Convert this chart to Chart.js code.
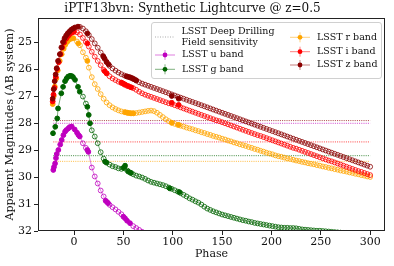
<!DOCTYPE html>
<html>
<head>
<meta charset="utf-8">
<script src="https://cdn.jsdelivr.net/npm/chart.js@4.4.0/dist/chart.umd.min.js"></script>
<style>
    html, body { margin: 0; padding: 0; background: #fff; }
</style>
</head>
<body>
<canvas id="myChart" width="394" height="266"></canvas>
<script>
// model grid (open circles), phase in days
var modelPhase = [3, 6, 9, 12, 15, 18, 21, 24, 27, 30,
    33, 36, 39, 42, 45, 48, 51, 54, 57, 60,
    63, 66, 69, 72, 75, 78, 81, 84, 87, 90,
    93, 96, 99, 102, 105, 108, 111, 114, 117, 120,
    123, 126, 129, 132, 135, 138, 141, 144, 147, 150,
    153, 156, 159, 162, 165, 168, 171, 174, 177, 180,
    183, 186, 189, 192, 195, 198, 201, 204, 207, 210,
    213, 216, 219, 222, 225, 228, 231, 234, 237, 240,
    243, 246, 249, 252, 255, 258, 261, 264, 267, 270,
    273, 276, 279, 282, 285, 288, 291, 294, 297, 300];

var zModel = [null, 24.44, 24.50, 24.60, 24.74, 24.89, 25.05, 25.21, 25.39, 25.56,
    25.74, 25.88, 25.98, 26.06, 26.13, 26.19, 26.24, 26.28, 26.32, 26.37,
    26.43, 26.49, 26.54, 26.58, 26.62, 26.66, 26.70, 26.74, 26.78, 26.82,
    26.86, 26.90, 26.94, 26.98, 27.02, 27.06, 27.10, 27.14, 27.18, 27.22,
    27.26, 27.30, 27.34, 27.38, 27.42, 27.46, 27.50, 27.54, 27.58, 27.62,
    27.66, 27.70, 27.74, 27.78, 27.82, 27.86, 27.90, 27.94, 27.98, 28.02,
    28.06, 28.10, 28.14, 28.18, 28.22, 28.26, 28.30, 28.34, 28.38, 28.42,
    28.46, 28.50, 28.54, 28.58, 28.62, 28.66, 28.70, 28.74, 28.78, 28.82,
    28.86, 28.90, 28.94, 28.98, 29.02, 29.06, 29.10, 29.14, 29.18, 29.22,
    29.26, 29.30, 29.34, 29.38, 29.42, 29.46, 29.50, 29.54, 29.58, 29.62];
var zObsPhase = [-21.6, -20.6, -19.6, -18.6, -17.6, -16.2, -14.4, -12.8, -11.2, -9.6, -8, -6.4, -4.8, -3, -1, 1, 4, 13.5,
    29.5, 31, 33, 35, 53, 55, 57, 59, 61, 63, 99, 106];
var zObsMag = [27.1, 26.75, 26.45, 26.2, 25.97, 25.7, 25.45, 25.2, 25.0, 24.86, 24.76, 24.68, 24.62, 24.55, 24.5, 24.46, 24.43, 24.68,
    25.52, 25.62, 25.74, 25.83, 26.27, 26.29, 26.31, 26.34, 26.38, 26.42, 27.0, 27.1];

var iModel = [24.64, 24.72, 24.85, 25.00, 25.17, 25.36, 25.54, 25.70, 25.86, 26.03,
    26.16, 26.27, 26.35, 26.41, 26.47, 26.52, 26.58, 26.63, 26.67, 26.71,
    26.77, 26.84, 26.90, 26.95, 26.99, 27.03, 27.07, 27.11, 27.15, 27.19,
    27.23, 27.27, 27.30, 27.34, 27.38, 27.42, 27.46, 27.50, 27.54, 27.58,
    27.62, 27.66, 27.70, 27.74, 27.78, 27.82, 27.86, 27.90, 27.93, 27.97,
    28.01, 28.05, 28.09, 28.13, 28.17, 28.21, 28.25, 28.29, 28.33, 28.37,
    28.41, 28.45, 28.48, 28.52, 28.56, 28.60, 28.64, 28.68, 28.72, 28.76,
    28.80, 28.84, 28.88, 28.92, 28.95, 28.99, 29.03, 29.07, 29.11, 29.15,
    29.19, 29.23, 29.27, 29.31, 29.35, 29.39, 29.42, 29.46, 29.50, 29.54,
    29.58, 29.62, 29.66, 29.70, 29.74, 29.78, 29.81, 29.85, 29.89, 29.93];
var iObsPhase = [-21.6, -20.8, -19.8, -18.5, -17.2, -15.5, -13.8, -12, -10, -8, -6, -4, -2, 0, 13.5,
    31, 33, 48, 50, 52, 55, 58, 99, 106];
var iObsMag = [27.2, 26.95, 26.7, 26.3, 26.0, 25.75, 25.45, 25.2, 25.02, 24.88, 24.78, 24.7, 24.65, 24.62, 25.05,
    26.08, 26.16, 26.5, 26.54, 26.58, 26.63, 26.68, 27.25, 27.33];

var rModel = [24.98, 25.12, 25.38, 25.58, 25.95, 26.30, 26.56, 26.74, 26.93, 27.10,
    27.24, 27.34, 27.42, 27.48, 27.53, 27.57, 27.60, 27.62, 27.64, 27.64,
    27.63, 27.61, 27.59, 27.57, 27.55, 27.54, 27.56, 27.62, 27.70, 27.78,
    27.86, 27.93, 27.99, 28.03, 28.07, 28.10, 28.13, 28.17, 28.20, 28.23,
    28.27, 28.30, 28.34, 28.37, 28.41, 28.44, 28.48, 28.51, 28.54, 28.58,
    28.61, 28.65, 28.68, 28.72, 28.75, 28.79, 28.82, 28.85, 28.89, 28.92,
    28.96, 28.99, 29.03, 29.06, 29.10, 29.13, 29.16, 29.20, 29.23, 29.25,
    29.28, 29.31, 29.33, 29.36, 29.39, 29.41, 29.44, 29.46, 29.49, 29.51,
    29.53, 29.56, 29.58, 29.61, 29.63, 29.66, 29.68, 29.71, 29.73, 29.76,
    29.78, 29.80, 29.83, 29.85, 29.88, 29.90, 29.93, 29.95, 29.98, 30.00];
var rObsPhase = [-21.6, -20.5, -19.5, -18, -16.5, -14.5, -12.5, -10.5, -9, -7, -5.5, -3, -0.7, 4.3, 13.5,
    52, 54, 56, 58, 60, 99, 106];
var rObsMag = [27.3, 27.0, 26.65, 26.35, 26.05, 25.7, 25.45, 25.25, 25.11, 25.0, 24.93, 24.88, 24.86, 25.05, 25.7,
    27.6, 27.62, 27.63, 27.64, 27.64, 27.99, 28.07];

var gModel = [null, null, 27.02, 27.28, null, 28.27, 28.50, 28.75, 29.08, 29.32,
    null, 29.54, 29.60, 29.63, 29.68, 29.70, 29.68, 29.76, 29.84, 29.90,
    29.95, 29.98, 30.02, 30.07, 30.13, 30.18, 30.21, 30.24, 30.27, 30.30,
    30.34, 30.39, 30.44, 30.49, 30.54, 30.60, 30.66, 30.72, 30.79, 30.84,
    30.90, 30.95, 31.02, 31.10, 31.17, 31.22, 31.27, 31.31, 31.35, 31.39,
    31.42, 31.45, 31.48, 31.51, 31.54, 31.57, 31.60, 31.62, 31.65, 31.67,
    31.70, 31.72, 31.74, 31.76, 31.78, 31.80, 31.82, 31.84, 31.86, 31.87,
    31.88, 31.88, 31.89, 31.89, 31.90, 31.92, 31.94, 31.95, 31.96, 31.97,
    31.98, 31.99, 31.99, 32.00, 32.01, 32.02, 32.03, 32.04, 32.05, 32.06,
    32.07, 32.07, 32.08, 32.08, 32.09, 32.09, 32.10, 32.10, 32.11, 32.11];
var gObsPhase = [-21.3, -19, -17, -16.2, -12.9, -11.1, -9.1, -7.5, -6, -4, -2.3, -1, 1, 4, 5.8, 13.5, 14.9, 16.2,
    31.4, 33, 50, 51.7, 55, 57.7, 97, 106.7];
var gObsMag = [28.38, 28.14, 27.83, 27.46, 26.9, 26.66, 26.45, 26.35, 26.28, 26.25, 26.26, 26.3, 26.4, 26.66, 26.84, 27.4, 27.7, 28.01,
    29.43, 29.47, 29.66, 29.58, 29.8, 29.85, 30.42, 30.56];

var uModel = [null, null, 28.75, 28.92, null, 29.65, 29.98, 30.24, 30.50, 30.72,
    null, 31.03, 31.12, 31.20, 31.29, 31.38, null, null, null, 31.82,
    31.89, 31.96, 32.03, 32.10, 32.17];
var uObsPhase = [-21, -20.3, -19.2, -18.3, -17.5, -15.9, -14, -12.5, -10.8, -9.1, -7.8, -5.8, -4.4, -2.3, 0.7, 3, 4.4, 5.8, 13.5, 14.5,
    32, 33.5, 34.5, 50, 51.7, 53.7, 56.7];
var uObsMag = [29.74, 29.63, 29.5, 29.3, 29.15, 29.0, 28.8, 28.63, 28.45, 28.32, 28.26, 28.2, 28.15, 28.13, 28.24, 28.36, 28.44, 28.5, 29.0, 29.07,
    30.88, 30.93, 30.97, 31.47, 31.53, 31.62, 31.71];

// LSST deep drilling field 5-sigma depth
var depthBands = ['z', 'u', 'i', 'g', 'r'];
var depthMag = [27.91, 28.01, 28.70, 29.21, 29.42];
var depthPhase = [-21, 300];

var xTicks = [0, 50, 100, 150, 200, 250, 300];
var yTicks = [25, 26, 27, 28, 29, 30, 31, 32];

var colors = { u: '#BF00BF', g: '#006400', r: '#FFA500', i: '#FF0000', z: '#8B0000' };

function alpha(hex, a) {
    var n = parseInt(hex.slice(1), 16);
    return 'rgba(' + (n >> 16) + ',' + ((n >> 8) & 255) + ',' + (n & 255) + ',' + a + ')';
}

function merge(model, obsPhase, obsMag) {
    var pts = [];
    for (var i = 0; i < model.length; i++) {
        if (model[i] !== null) pts.push({ x: modelPhase[i], y: model[i], f: false });
    }
    for (var j = 0; j < obsPhase.length; j++) pts.push({ x: obsPhase[j], y: obsMag[j], f: true });
    pts.sort(function (a, b) { return a.x - b.x; });
    return pts;
}

function bandSet(band, pts) {
    var c = colors[band];
    return {
        label: 'LSST ' + band + ' band',
        data: pts,
        showLine: true,
        borderColor: alpha(c, 0.5),
        borderWidth: 1,
        pointRadius: 2.4,
        pointBorderWidth: 1,
        pointBorderColor: function (ctx) { return ctx.raw && ctx.raw.f ? c : alpha(c, 0.8); },
        pointBackgroundColor: function (ctx) { return ctx.raw && ctx.raw.f ? c : 'rgba(255,255,255,0)'; }
    };
}

var datasets = [
    bandSet('z', merge(zModel, zObsPhase, zObsMag)),
    bandSet('i', merge(iModel, iObsPhase, iObsMag)),
    bandSet('r', merge(rModel, rObsPhase, rObsMag)),
    bandSet('g', merge(gModel, gObsPhase, gObsMag)),
    bandSet('u', merge(uModel, uObsPhase, uObsMag))
];
depthBands.forEach(function (b, k) {
    datasets.push({
        label: 'depth ' + b,
        data: depthPhase.map(function (p) { return { x: p, y: depthMag[k] }; }),
        showLine: true,
        borderColor: alpha(colors[b], 0.75),
        borderWidth: 1,
        borderDash: [1, 1.2],
        pointRadius: 0
    });
});

var serif = "'DejaVu Serif', serif";

// box around the plot + legend like matplotlib
var framePlugin = {
    id: 'frame',
    afterDraw: function (chart) {
        var ctx = chart.ctx, a = chart.chartArea;
        ctx.save();
        ctx.strokeStyle = '#222';
        ctx.lineWidth = 1;
        ctx.strokeRect(Math.round(a.left) + 0.5, Math.round(a.top) + 0.5,
            Math.round(a.right - a.left) - 1, Math.round(a.bottom - a.top) - 1);

        // legend
        var bx = 151.5, by = 22.5, bw = 230, bh = 56;
        ctx.fillStyle = 'rgba(255,255,255,0.85)';
        ctx.strokeStyle = '#d0d0d0';
        ctx.beginPath();
        ctx.roundRect(bx, by, bw, bh, 2.5);
        ctx.fill();
        ctx.stroke();

        ctx.font = '9.5px ' + serif;
        ctx.textBaseline = 'middle';
        ctx.fillStyle = '#111';

        // depth entry
        ctx.strokeStyle = 'rgba(150,150,150,0.8)';
        ctx.setLineDash([1, 1.5]);
        ctx.beginPath(); ctx.moveTo(155, 37); ctx.lineTo(175, 37); ctx.stroke();
        ctx.setLineDash([]);
        ctx.fillText('LSST Deep Drilling', 181.5, 31.5);
        ctx.fillText('Field sensitivity', 181.5, 42.5);

        var items = [
            ['u', 155, 55], ['g', 155, 69.3],
            ['r', 290, 37.3], ['i', 290, 51.7], ['z', 290, 65]
        ];
        items.forEach(function (it) {
            var c = colors[it[0]], x = it[1], y = it[2];
            ctx.strokeStyle = alpha(c, 0.5);
            ctx.beginPath();
            ctx.moveTo(x, y); ctx.lineTo(x + 20, y);
            ctx.moveTo(x + 10, y - 5); ctx.lineTo(x + 10, y + 5);
            ctx.stroke();
            ctx.fillStyle = c;
            ctx.beginPath(); ctx.arc(x + 10, y, 2.4, 0, Math.PI * 2); ctx.fill();
            ctx.fillStyle = '#111';
            ctx.fillText('LSST ' + it[0] + ' band', x + 27, y);
        });
        ctx.restore();
    }
};

const ctx = document.getElementById('myChart').getContext('2d');
const myChart = new Chart(ctx, {
    type: 'scatter',
    data: { datasets: datasets },
    plugins: [framePlugin],
    options: {
        responsive: false,
        animation: false,
        layout: { padding: { left: 0, right: 9, top: 0, bottom: 0 } },
        plugins: {
            legend: { display: false },
            tooltip: { enabled: false },
            title: {
                display: true,
                text: 'iPTF13bvn: Synthetic Lightcurve @ z=0.5',
                color: '#111',
                font: { family: serif, size: 12, weight: 'normal' },
                padding: { top: 2, bottom: 1.6 }
            }
        },
        scales: {
            x: {
                type: 'linear',
                min: -36.5,
                max: 315,
                afterFit: function (s) { s.height = 35; },
                afterBuildTicks: function (s) { s.ticks = xTicks.map(function (v) { return { value: v }; }); },
                border: { display: false },
                grid: { drawOnChartArea: false, drawTicks: true, tickLength: 4, tickColor: '#222' },
                ticks: { color: '#111', font: { family: serif, size: 11 }, padding: 1, maxRotation: 0 },
                title: { display: true, text: 'Phase', color: '#111', font: { family: serif, size: 11 }, padding: { top: 0, bottom: 5 } }
            },
            y: {
                type: 'linear',
                reverse: true,
                min: 24.11,
                max: 32,
                afterFit: function (s) { s.width = 38; },
                afterBuildTicks: function (s) { s.ticks = yTicks.map(function (v) { return { value: v }; }); },
                border: { display: false },
                grid: { drawOnChartArea: false, drawTicks: true, tickLength: 4, tickColor: '#222' },
                ticks: { color: '#111', font: { family: serif, size: 11 }, padding: 2 },
                title: { display: true, text: 'Apparent Magnitudes (AB system)', color: '#111', font: { family: serif, size: 11 }, padding: { top: 4, bottom: 0 } }
            }
        }
    }
});
</script>
</body>
</html>
